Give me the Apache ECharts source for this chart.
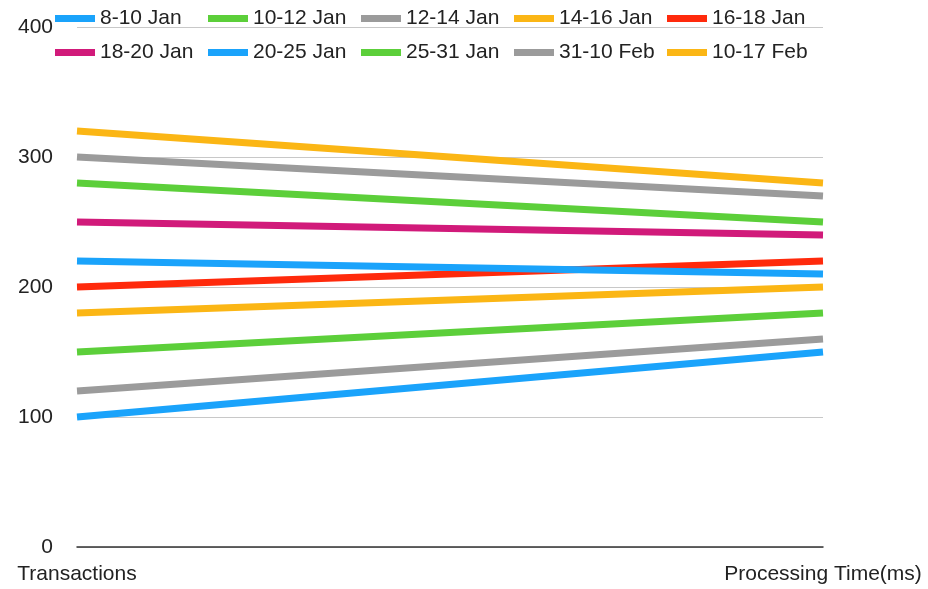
<!DOCTYPE html>
<html>
<head>
<meta charset="utf-8">
<script src="https://cdn.jsdelivr.net/npm/echarts@6/dist/echarts.min.js"></script>
<style>
  html, body { margin: 0; padding: 0; background: #fff; }
  #chart { width: 928px; height: 589px; }
</style>
</head>
<body>
<div id="chart"></div>
<script>
// Categories on the x axis
const categories = ['Transactions', 'Processing Time(ms)'];

// Date ranges (one line each)
const periods = [
  '8-10 Jan', '10-12 Jan', '12-14 Jan', '14-16 Jan', '16-18 Jan',
  '18-20 Jan', '20-25 Jan', '25-31 Jan', '31-10 Feb', '10-17 Feb'
];

// Values per period: [Transactions, Processing Time(ms)]
const jan08_10 = [100, 150];
const jan10_12 = [150, 180];
const jan12_14 = [120, 160];
const jan14_16 = [180, 200];
const jan16_18 = [200, 220];
const jan18_20 = [250, 240];
const jan20_25 = [220, 210];
const jan25_31 = [280, 250];
const jan31_feb10 = [300, 270];
const feb10_17 = [320, 280];

const seriesValues = [
  jan08_10, jan10_12, jan12_14, jan14_16, jan16_18,
  jan18_20, jan20_25, jan25_31, jan31_feb10, feb10_17
];

const colors = [
  '#1aa3fb', '#5ccf3a', '#9b9b9b', '#fbb615', '#ff2a0c',
  '#d11a7a', '#1aa3fb', '#5ccf3a', '#9b9b9b', '#fbb615'
];

// Y axis range
const yMin = 0, yMax = 400, yStep = 100;

const FONT = 'Liberation Sans, Arial, sans-serif';

const chart = echarts.init(document.getElementById('chart'), null, { renderer: 'canvas' });

// Legend laid out as a 5-column grid of equally spaced entries
const LEGEND_COLS = 5;
const legends = periods.map((name, i) => ({
  orient: 'horizontal',
  left: 55 + 153 * (i % LEGEND_COLS),
  top: 8 + 34 * Math.floor(i / LEGEND_COLS),
  padding: 0,
  icon: 'rect',
  itemWidth: 40,
  itemHeight: 7,
  textStyle: { fontFamily: FONT, fontSize: 21, color: '#222' },
  data: [name]
}));

chart.setOption({
  animation: false,
  color: colors,
  legend: legends,
  grid: { left: 77, right: 105, top: 27, bottom: 42, containLabel: false },
  xAxis: {
    type: 'category',
    data: categories,
    boundaryGap: false,
    axisLine: { lineStyle: { color: '#333', width: 1.5 } },
    axisTick: { show: false },
    axisLabel: { fontFamily: FONT, fontSize: 21, color: '#222', margin: 17 }
  },
  yAxis: {
    type: 'value',
    min: yMin,
    max: yMax,
    interval: yStep,
    axisLine: { show: false },
    axisTick: { show: false },
    axisLabel: { fontFamily: FONT, fontSize: 21, color: '#222', margin: 24 },
    splitLine: { lineStyle: { color: '#c8c8c8', width: 1 } }
  },
  series: periods.map((name, i) => ({
    name: name,
    type: 'line',
    data: seriesValues[i],
    symbol: 'none',
    lineStyle: { width: 7, color: colors[i] },
    itemStyle: { color: colors[i] }
  }))
});
</script>
</body>
</html>
